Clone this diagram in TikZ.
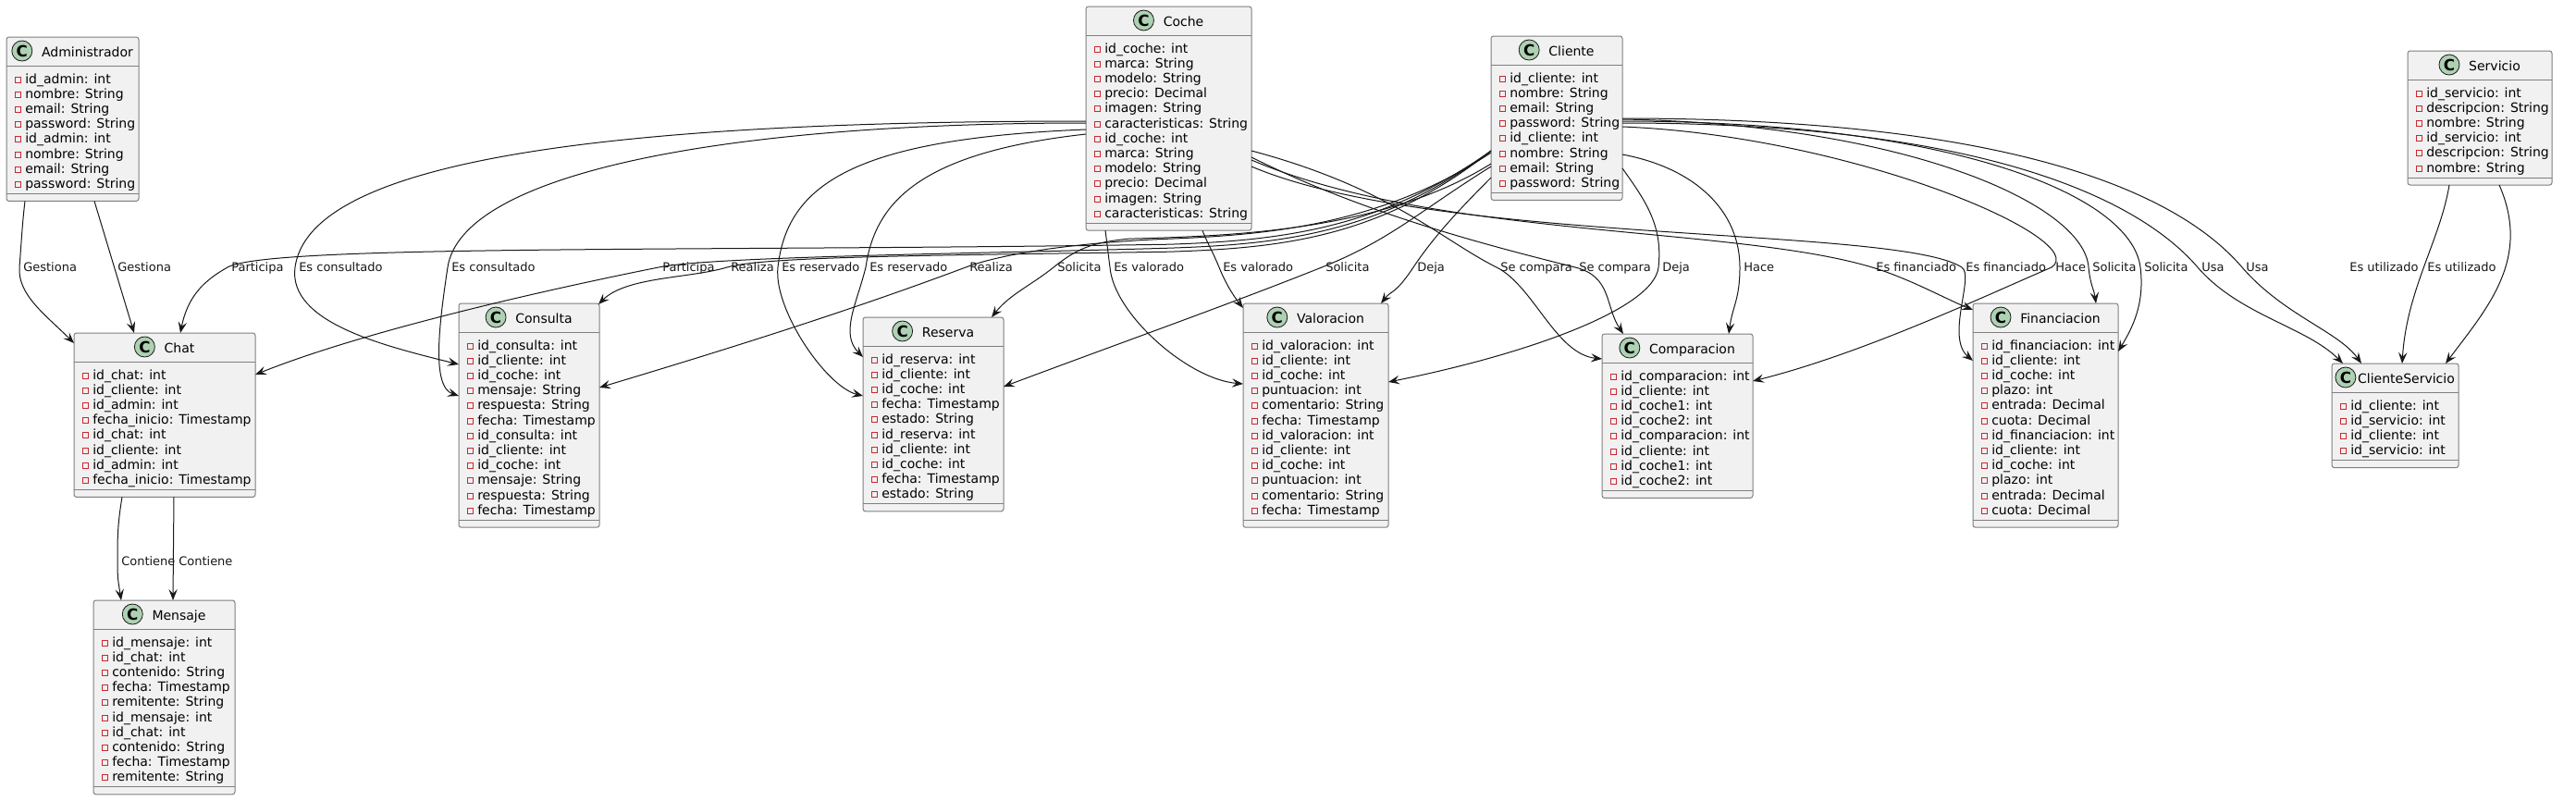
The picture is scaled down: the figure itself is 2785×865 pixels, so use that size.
\documentclass[tikz,border=0pt]{standalone}
\usepackage{fontspec}
\setmainfont{DejaVu Sans}
\usetikzlibrary{calc,arrows.meta}

\definecolor{boxfill}{HTML}{F1F1F1}
\definecolor{boxline}{HTML}{7F7F7F}
\definecolor{edgeline}{HTML}{181818}
\definecolor{spotfill}{HTML}{ADD1B2}
\definecolor{privred}{HTML}{C82930}

\tikzset{
  classbox/.style={draw=boxline, fill=boxfill, line width=0.75pt, rounded corners=2pt,
    anchor=north west, inner sep=0pt, outer sep=0pt},
  classline/.style={draw=boxline, line width=0.75pt},
  classtitle/.style={inner sep=0pt, font=\fontsize{10.5}{12}\selectfont},
  spot/.style={circle, draw=edgeline, fill=spotfill, line width=0.6pt, minimum size=16.5pt,
    inner sep=0pt, font=\fontsize{12.5}{12.5}\selectfont\bfseries},
  attrtext/.style={inner sep=0pt, anchor=base west, font=\fontsize{10.5}{12}\selectfont},
  privmark/.style={draw=privred, line width=0.6pt},
  assoc/.style={draw=edgeline, line width=0.75pt, -{Stealth[length=9pt, width=7pt, inset=3.5pt]}},
  edgelabel/.style={inner sep=0pt, anchor=base west, font=\fontsize{9.75}{11}\selectfont, text=edgeline},
}

% class box: name, x, y, width, title, gap after spot, attributes
\newcommand{\umlclass}[7]{%
  \gdef\attrcount{0}%
  \foreach \a in {#7} {\xdef\attrcount{\the\numexpr\attrcount+1\relax}}%
  \node[classbox, minimum width={#4*0.75pt}, minimum height={(47.8+16.2*\attrcount)*0.75pt}] (#1) at (#2,#3) {};
  \draw[classline] ($(#1.north west)+(0,31)$) -- ($(#1.north east)+(0,31)$);
  \draw[classline] ($(#1.south west)+(0,-8)$) -- ($(#1.south east)+(0,-8)$);
  \node[classtitle, anchor=base] (#1-t) at ($(#1.north)+({(22+#6)/2},21)$) {#5};
  \node[spot] at ($(#1-t.base west)+({-#6-11},-6)$) {C};
  \foreach \a [count=\i] in {#7} {
    \draw[privmark] ($(#1.north west)+(9,{43+(\i-1)*16.2})$) rectangle +(6,6);
    \node[attrtext] at ($(#1.north west)+(20,{50+(\i-1)*16.2})$) {\a};
  }%
}

\begin{document}
\begin{tikzpicture}[x=0.75pt, y=-0.75pt]
    \useasboundingbox (0,0) rectangle (2785,865);
    \fill[white] (0,0) rectangle (2785,865);

    % Classes
    \umlclass{Admin}{7}{40}{143}{Administrador}{10}{id\_admin: int, nombre: String, email: String, password: String,
      id\_admin: int, nombre: String, email: String, password: String}
    \umlclass{Coche}{1174}{7}{179}{Coche}{10}{id\_coche: int, marca: String, modelo: String, precio: Decimal,
      imagen: String, caracteristicas: String, id\_coche: int, marca: String, modelo: String,
      precio: Decimal, imagen: String, caracteristicas: String}
    \umlclass{Cliente}{1612}{39}{142}{Cliente}{10}{id\_cliente: int, nombre: String, email: String, password: String,
      id\_cliente: int, nombre: String, email: String, password: String}
    \umlclass{Servicio}{2603}{55}{156}{Servicio}{10}{id\_servicio: int, descripcion: String, nombre: String,
      id\_servicio: int, descripcion: String, nombre: String}
    \umlclass{Chat}{80}{360}{196}{Chat}{10}{id\_chat: int, id\_cliente: int, id\_admin: int, fecha\_inicio: Timestamp,
      id\_chat: int, id\_cliente: int, id\_admin: int, fecha\_inicio: Timestamp}
    \umlclass{Mensaje}{101}{649}{153}{Mensaje}{10}{id\_mensaje: int, id\_chat: int, contenido: String,
      fecha: Timestamp, remitente: String, id\_mensaje: int, id\_chat: int, contenido: String,
      fecha: Timestamp, remitente: String}
    \umlclass{Consulta}{496}{328}{152}{Consulta}{10}{id\_consulta: int, id\_cliente: int, id\_coche: int,
      mensaje: String, respuesta: String, fecha: Timestamp, id\_consulta: int, id\_cliente: int,
      id\_coche: int, mensaje: String, respuesta: String, fecha: Timestamp}
    \umlclass{Reserva}{933}{343}{152}{Reserva}{10}{id\_reserva: int, id\_cliente: int, id\_coche: int,
      fecha: Timestamp, estado: String, id\_reserva: int, id\_cliente: int, id\_coche: int,
      fecha: Timestamp, estado: String}
    \umlclass{Valoracion}{1344}{328}{157}{Valoracion}{10}{id\_valoracion: int, id\_cliente: int, id\_coche: int,
      puntuacion: int, comentario: String, fecha: Timestamp, id\_valoracion: int, id\_cliente: int,
      id\_coche: int, puntuacion: int, comentario: String, fecha: Timestamp}
    \umlclass{Comparacion}{1732}{361}{163}{Comparacion}{10}{id\_comparacion: int, id\_cliente: int,
      id\_coche1: int, id\_coche2: int, id\_comparacion: int, id\_cliente: int, id\_coche1: int, id\_coche2: int}
    \umlclass{Financiacion}{2133}{328}{157}{Financiacion}{10}{id\_financiacion: int, id\_cliente: int,
      id\_coche: int, plazo: int, entrada: Decimal, cuota: Decimal, id\_financiacion: int,
      id\_cliente: int, id\_coche: int, plazo: int, entrada: Decimal, cuota: Decimal}
    \umlclass{ClienteServicio}{2521}{393}{137}{ClienteServicio}{2}{id\_cliente: int, id\_servicio: int,
      id\_cliente: int, id\_servicio: int}

    % Labels
    \node[edgelabel] (gest1) at (25,293.5) {Gestiona};
    \node[edgelabel] (gest2) at (127,293.5) {Gestiona};
    \node[edgelabel] (part1) at (250,293.5) {Participa};
    \node[edgelabel] (cons1) at (323,293.5) {Es consultado};
    \node[edgelabel] (cons2) at (488,293.5) {Es consultado};
    \node[edgelabel] (part2) at (716,293.5) {Participa};
    \node[edgelabel] (real1) at (790,293.5) {Realiza};
    \node[edgelabel] (res1) at (845,293.5) {Es reservado};
    \node[edgelabel] (res2) at (940,293.5) {Es reservado};
    \node[edgelabel] (real2) at (1048,293.5) {Realiza};
    \node[edgelabel] (sol1) at (1143,293.5) {Solicita};
    \node[edgelabel] (val1) at (1204,293.5) {Es valorado};
    \node[edgelabel] (val2) at (1322,293.5) {Es valorado};
    \node[edgelabel] (sol2) at (1433,293.5) {Solicita};
    \node[edgelabel] (deja1) at (1532,293.5) {Deja};
    \node[edgelabel] (comp1) at (1622,293.5) {Se compara};
    \node[edgelabel] (comp2) at (1707,293.5) {Se compara};
    \node[edgelabel] (deja2) at (1797,293.5) {Deja};
    \node[edgelabel] (hace1) at (1885,293.5) {Hace};
    \node[edgelabel] (fin1) at (2028,293.5) {Es financiado};
    \node[edgelabel] (fin2) at (2125,293.5) {Es financiado};
    \node[edgelabel] (hace2) at (2222,293.5) {Hace};
    \node[edgelabel] (solf1) at (2262,293.5) {Solicita};
    \node[edgelabel] (solf2) at (2318,293.5) {Solicita};
    \node[edgelabel] (usa1) at (2380,293.5) {Usa};
    \node[edgelabel] (usa2) at (2428,293.5) {Usa};
    \node[edgelabel] (util1) at (2540,293.5) {Es utilizado};
    \node[edgelabel] (util2) at (2624,293.5) {Es utilizado};
    \node[edgelabel] (cont1) at (131,611.5) {Contiene};
    \node[edgelabel] (cont2) at (193,611.5) {Contiene};

    % Administrador / Chat / Mensaje
    \draw[assoc] ($(Admin.south west)+(20,0)$) .. controls +(-3,25) and +(2,-25) .. ($(gest1.base west)+(-4,-4.5)$)
      .. controls +(-2,30) and +(-30,-30) .. ($(Chat.north west)+(0,11)$);
    \draw[assoc] ($(Admin.south west)+(95,0)$) -- ($(Chat.north west)+(65,0)$);
    \draw[assoc] ($(Chat.south west)+(52,0)$) .. controls +(-5,30) and +(0,-25) .. ($(cont1.base west)+(-4,-4.5)$)
      .. controls +(0,20) and +(-3,-20) .. ($(Mensaje.north west)+(30,0)$);
    \draw[assoc] ($(Chat.south west)+(108,0)$) -- ($(Mensaje.north west)+(86,0)$);

    % Cliente / Chat
    \draw[assoc] ($(Cliente.north west)+(0,124)$) .. controls +(-120,85) and +(120,-4) .. ($(Coche.south)+(0,15)$)
      .. controls +(-500,8) and +(45,-25) .. ($(part1.base west)+(-4,-4.5)$)
      .. controls +(-25,14) and +(8,-40) .. ($(Chat.north west)+(115,0)$);
    \draw[assoc] ($(Cliente.north west)+(0,124)$) .. controls +(-120,90) and +(120,-4) .. ($(Coche.south)+(0,19)$)
      .. controls +(-200,6) and +(60,-12) .. ($(part2.base west)+(-4,-4.5)$)
      .. controls +(-120,24) and +(120,-48) .. ($(Chat.north east)+(0,45)$);

    % Coche / Consulta
    \draw[assoc] ($(Coche.north west)+(0,124)$) .. controls +(-550,0) and +(15,-110) .. ($(cons1.base west)+(-4,-4.5)$)
      .. controls +(-8,60) and +(-80,-20) .. ($(Consulta.north west)+(0,66)$);
    \draw[assoc] ($(Coche.north west)+(0,126)$) .. controls +(-400,0) and +(15,-100) .. ($(cons2.base west)+(-4,-4.5)$)
      .. controls +(-9,60) and +(-30,-10) .. ($(Consulta.north west)+(0,100)$);

    % Cliente / Consulta
    \draw[assoc] ($(Cliente.north west)+(0,124)$) .. controls +(-120,95) and +(120,-4) .. ($(Coche.south)+(0,23)$)
      .. controls +(-250,4) and +(40,-12) .. ($(real1.base west)+(-4,-4.5)$)
      .. controls +(-40,12) and +(30,-30) .. ($(Consulta.north east)+(-1,1)$);
    \draw[assoc] ($(Cliente.north west)+(0,126)$) .. controls +(-120,80) and +(100,-4) .. ($(Coche.south)+(0,9)$)
      .. controls +(-100,4) and +(40,-15) .. ($(real2.base west)+(-4,-4.5)$)
      .. controls +(-120,45) and +(150,-45) .. ($(Consulta.north east)+(0,91)$);

    % Coche / Reserva
    \draw[assoc] ($(Coche.north west)+(0,133)$) .. controls +(-250,10) and +(10,-90) .. ($(res1.base west)+(-4,-4.5)$)
      .. controls +(-5,45) and +(-40,-10) .. ($(Reserva.north west)+(0,85)$);
    \draw[assoc] ($(Coche.north west)+(0,138)$) .. controls +(-180,20) and +(10,-70) .. ($(res2.base west)+(-4,-4.5)$)
      .. controls +(-10,40) and +(-25,-25) .. ($(Reserva.north west)+(0,43)$);

    % Cliente / Reserva
    \draw[assoc] ($(Cliente.north west)+(0,138)$) .. controls +(-120,75) and +(100,-3) .. ($(Coche.south west)+(46,9)$)
      .. controls +(-40,4) and +(25,-20) .. ($(sol1.base west)+(-4,-4.5)$)
      .. controls +(-25,20) and +(20,-25) .. ($(Reserva.north east)+(-13,0)$);
    \draw[assoc] ($(Cliente.north west)+(0,141)$) .. controls +(-80,50) and +(75,-30) .. ($(sol2.base west)+(-4,-4.5)$)
      .. controls +(-100,40) and +(120,-45) .. ($(Reserva.north east)+(0,75)$);

    % Coche / Valoracion
    \draw[assoc] ($(Coche.south west)+(21,0)$) .. controls +(2,15) and +(-2,-15) .. ($(val1.base west)+(-4,-4.5)$)
      .. controls +(4,50) and +(-60,-5) .. ($(Valoracion.north west)+(0,87)$);
    \draw[assoc] ($(Coche.south west)+(126,0)$) .. controls +(6,15) and +(-6,-15) .. ($(val2.base west)+(-4,-4.5)$)
      .. controls +(6,15) and +(-12,-15) .. ($(Valoracion.north west)+(0,5)$);

    % Cliente / Valoracion
    \draw[assoc] ($(Cliente.north west)+(0,153)$) .. controls +(-40,40) and +(20,-30) .. ($(deja1.base west)+(-4,-4.5)$)
      .. controls +(-20,30) and +(12,-15) .. ($(Valoracion.north east)+(-8,0)$);
    \draw[assoc] ($(Cliente.north east)+(0,143)$) .. controls +(25,35) and +(5,-45) .. ($(deja2.base west)+(-4,-4.5)$)
      .. controls +(-5,45) and +(150,-30) .. ($(Valoracion.north east)+(0,85)$);

    % Coche / Comparacion
    \draw[assoc] ($(Coche.north east)+(0,156)$) .. controls +(150,40) and +(-60,-30) .. ($(comp1.base west)+(-4,-4.5)$)
      .. controls +(40,20) and +(-50,-5) .. ($(Comparacion.north west)+(0,27)$);
    \draw[assoc] ($(Coche.north east)+(0,163)$) .. controls +(120,60) and +(-100,-25) .. ($(comp2.base west)+(-4,-4.5)$)
      .. controls +(40,10) and +(-20,-30) .. ($(Comparacion.north west)+(23,0)$);

    % Cliente / Comparacion
    \draw[assoc] ($(Cliente.north east)+(0,128)$) .. controls +(80,15) and +(0,-60) .. ($(hace1.base west)+(-4,-4.5)$)
      .. controls +(0,35) and +(4,-30) .. ($(Comparacion.north west)+(137,0)$);
    \draw[assoc] ($(Cliente.north east)+(0,98)$) .. controls +(250,10) and +(45,-30) .. ($(hace2.base west)+(-4,-4.5)$)
      .. controls +(-70,30) and +(120,-30) .. ($(Comparacion.north east)+(0,51)$);

    % Coche / Financiacion
    \draw[assoc] ($(Coche.north east)+(0,166)$) .. controls +(200,85) and +(-150,-45) .. ($(fin1.base west)+(-4,-4.5)$)
      .. controls +(40,12) and +(-30,-12) .. ($(Financiacion.north west)+(0,7)$);
    \draw[assoc] ($(Coche.north east)+(0,173)$) .. controls +(200,85) and +(-70,-45) .. ($(fin2.base west)+(-4,-4.5)$)
      .. controls +(14,9) and +(-30,-25) .. ($(Financiacion.north west)+(0,62)$);

    % Cliente / Financiacion
    \draw[assoc] ($(Cliente.north east)+(0,90)$) .. controls +(300,5) and +(-5,-70) .. ($(solf1.base west)+(-4,-4.5)$)
      .. controls +(2,20) and +(-2,-15) .. ($(Financiacion.north west)+(133,0)$);
    \draw[assoc] ($(Cliente.north east)+(0,92)$) .. controls +(350,0) and +(-10,-80) .. ($(solf2.base west)+(-4,-4.5)$)
      .. controls +(5,40) and +(15,-25) .. ($(Financiacion.north east)+(0,52)$);

    % Cliente / ClienteServicio
    \draw[assoc] ($(Cliente.north east)+(0,94)$) .. controls +(400,0) and +(-60,-70) .. ($(usa1.base west)+(-4,-4.5)$)
      .. controls +(45,52) and +(-40,-40) .. ($(ClienteServicio.north west)+(12,0)$);
    \draw[assoc] ($(Cliente.north east)+(0,89)$) .. controls +(450,0) and +(-60,-70) .. ($(usa2.base west)+(-4,-4.5)$)
      .. controls +(45,52) and +(-25,-35) .. ($(ClienteServicio.north west)+(32,0)$);

    % Servicio / ClienteServicio
    \draw[assoc] ($(Servicio.south west)+(45,0)$) .. controls +(-10,60) and +(5,-80) .. ($(ClienteServicio.north west)+(76,0)$);
    \draw[assoc] ($(Servicio.south west)+(99,0)$) .. controls +(35,80) and +(45,-60) .. ($(ClienteServicio.north west)+(123,0)$);
\end{tikzpicture}
\end{document}
